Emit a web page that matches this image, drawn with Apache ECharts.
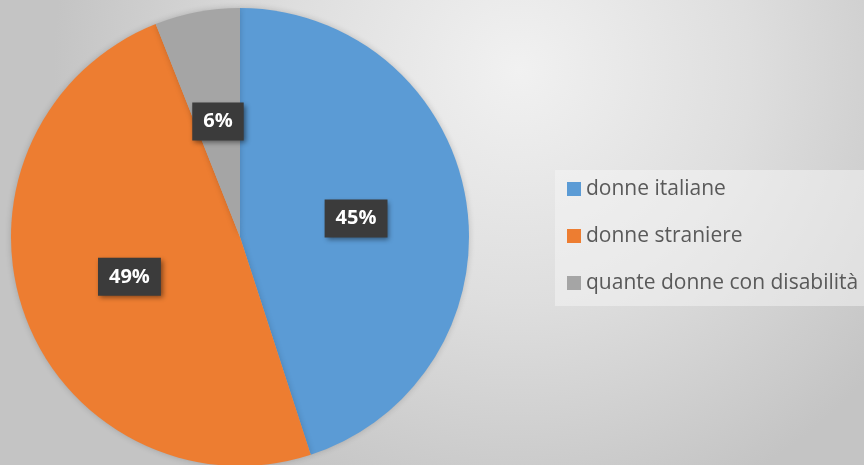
<!DOCTYPE html>
<html>
<head>
<meta charset="utf-8">
<script src="https://cdn.jsdelivr.net/npm/echarts@6/dist/echarts.min.js"></script>
<style>
  html, body { margin: 0; padding: 0; }
  #chart { width: 864px; height: 465px; }
</style>
</head>
<body>
<div id="chart"></div>
<script>
// dati
var categories = ['donne italiane', 'donne straniere', 'quante donne con disabilità'];
var values = [45, 49, 6];
var colors = ['#5b9bd5', '#ed7d31', '#a5a5a5'];

var chart = echarts.init(document.getElementById('chart'));

var pieData = categories.map(function (name, i) {
  return { name: name, value: values[i], itemStyle: { color: colors[i] } };
});

chart.setOption({
  backgroundColor: new echarts.graphic.RadialGradient(0.6, 0.15, 1.0, [
    { offset: 0, color: '#f1f1f1' },
    { offset: 0.5, color: '#dedede' },
    { offset: 1, color: '#c4c4c4' }
  ]),
  animation: false,
  legend: {
    orient: 'vertical',
    left: 555,
    top: 170,
    padding: [8, 10, 12, 12],
    backgroundColor: 'rgba(246,246,246,0.5)',
    itemWidth: 14,
    itemHeight: 14,
    itemGap: 25,
    icon: 'rect',
    data: categories,
    textStyle: {
      fontFamily: 'Open Sans',
      fontSize: 21,
      lineHeight: 22,
      color: '#595959'
    }
  },
  series: [{
    type: 'pie',
    center: [240, 237],
    radius: 229,
    startAngle: 90,
    clockwise: true,
    data: pieData,
    itemStyle: {
      shadowBlur: 6,
      shadowColor: 'rgba(0,0,0,0.18)'
    },
    emphasis: { disabled: true },
    labelLine: { show: false },
    label: {
      show: true,
      position: 'inside',
      formatter: '{c}%',
      color: '#ffffff',
      fontFamily: 'Open Sans',
      fontWeight: 'bold',
      fontSize: 20,
      backgroundColor: '#3b3b3b',
      padding: [10, 11, 8, 11],
      shadowColor: 'rgba(0,0,0,0.45)',
      shadowBlur: 5,
      shadowOffsetX: 2,
      shadowOffsetY: 2
    }
  }]
});
</script>
</body>
</html>
